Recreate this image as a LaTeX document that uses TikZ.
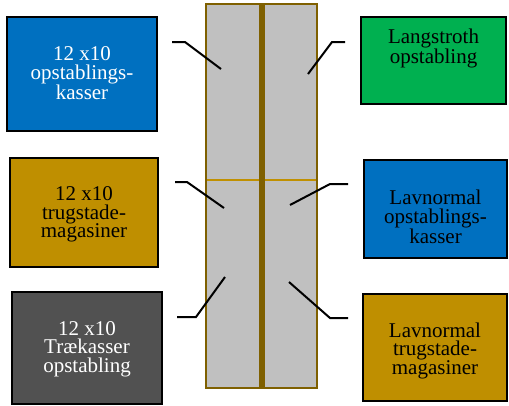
\documentclass[tikz,border=0pt]{standalone}
\usepackage{fontspec}
\setmainfont{Liberation Serif}
\definecolor{boxblue}{HTML}{0070C0}
\definecolor{boxgold}{HTML}{BF8F00}
\definecolor{boxgreen}{HTML}{00B050}
\definecolor{boxdark}{HTML}{515151}
\definecolor{colgray}{HTML}{C0C0C0}
\definecolor{colbrown}{HTML}{7F6000}
\definecolor{hgold}{HTML}{C09000}
\begin{document}
\begin{tikzpicture}[x=1pt,y=-1pt,
  box/.style={draw=black,line width=2.5pt,rectangle,inner sep=0pt},
  boxtext/.style={align=center,inner sep=0pt,font=\fontsize{21}{18.5}\selectfont},
  leader/.style={draw=black,line width=2pt}]
\useasboundingbox (0,0) rectangle (509,405);
% central column
\fill[colgray] (206,4) rectangle (317,388);
\draw[hgold,line width=2pt] (207,180) -- (316,180);
\draw[colbrown,line width=6pt] (262,4) -- (262,388);
\draw[colbrown,line width=2.2pt] (206,4) rectangle (317,388);
% boxes
\node[box,fill=boxblue,minimum width=150pt,minimum height=114pt] (b1) at (82,74) {};
\node[box,fill=boxgold,minimum width=148pt,minimum height=109pt] (b2) at (84,212.5) {};
\node[box,fill=boxdark,minimum width=150pt,minimum height=112pt] (b3) at (87,348) {};
\node[box,fill=boxgreen,minimum width=145pt,minimum height=87pt] (r1) at (433.5,60.5) {};
\node[box,fill=boxblue,minimum width=143pt,minimum height=98pt] (r2) at (435.5,209) {};
\node[box,fill=boxgold,minimum width=144pt,minimum height=107pt] (r3) at (435,347.5) {};
% texts
\node[boxtext,text=white] (t1) at ([yshift=1pt]b1.center) {12 x10\\opstablings-\\kasser};
\node[boxtext] (t2) at ([yshift=-2pt]b2.center) {12 x10\\trugstade-\\magasiner};
\node[boxtext,text=white] (t3) at ([yshift=-1pt]b3.center) {12 x10\\Trækasser\\opstabling};
\node[boxtext] (t4) at ([yshift=12pt]r1.center) {Langstroth\\opstabling};
\node[boxtext] (t5) at ([yshift=-8pt]r2.center) {Lavnormal\\opstablings-\\kasser};
\node[boxtext] (t6) at ([yshift=-3pt]r3.center) {Lavnormal\\trugstade-\\magasiner};
% leader coordinates
\coordinate (l1a) at (172,42); \coordinate (l1b) at (185,42); \coordinate (l1c) at (221,69);
\coordinate (r1a) at (345,42); \coordinate (r1b) at (332,42); \coordinate (r1c) at (308,74);
\coordinate (l2a) at (175,182); \coordinate (l2b) at (187,182); \coordinate (l2c) at (224,208);
\coordinate (r2a) at (348,184); \coordinate (r2b) at (330,184); \coordinate (r2c) at (290,205);
\coordinate (l3a) at (177,317); \coordinate (l3b) at (196,317); \coordinate (l3c) at (225,277);
\coordinate (r3a) at (348,318); \coordinate (r3b) at (330,318); \coordinate (r3c) at (289,282);
\draw[leader] (l1a) -- (l1b) -- (l1c);
\draw[leader] (r1a) -- (r1b) -- (r1c);
\draw[leader] (l2a) -- (l2b) -- (l2c);
\draw[leader] (r2a) -- (r2b) -- (r2c);
\draw[leader] (l3a) -- (l3b) -- (l3c);
\draw[leader] (r3a) -- (r3b) -- (r3c);
\end{tikzpicture}
\end{document}
